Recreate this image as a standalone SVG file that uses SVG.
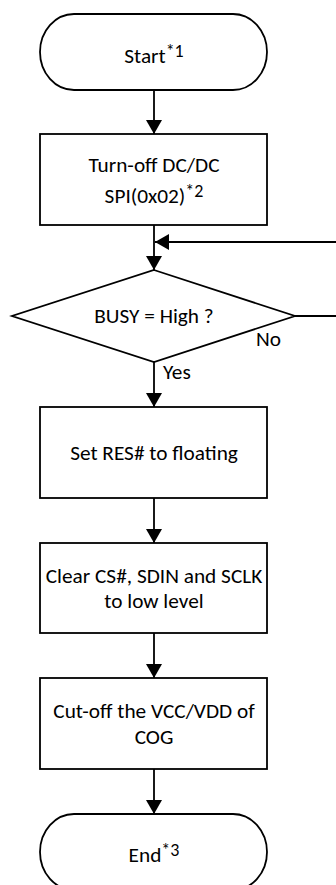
<svg xmlns="http://www.w3.org/2000/svg" width="336" height="885" viewBox="0 0 336 885">
<style>
.s{fill:#fff;stroke:#000;stroke-width:1.8}
.c{fill:none;stroke:#000;stroke-width:1.8}
text{font-family:Carlito,Calibri,Lato,"Open Sans",sans-serif;font-size:21.3px;fill:#000;text-anchor:middle}
.l{text-anchor:start}
.sup{font-size:18px}
</style>
<defs>
<marker id="ah" viewBox="0 0 14 16" refX="14" refY="8" markerWidth="14" markerHeight="16" markerUnits="userSpaceOnUse" orient="auto">
<path d="M0,0 L14,8 L0,16 Z" fill="#000"/>
</marker>
</defs>
<g id="connectors">
<line class="c" x1="154" y1="90" x2="154" y2="134" marker-end="url(#ah)"/>
<line class="c" x1="154" y1="225" x2="154" y2="270" marker-end="url(#ah)"/>
<path class="c" d="M295,316 H346 V242 H155" marker-end="url(#ah)"/>
<line class="c" x1="154" y1="362" x2="154" y2="407" marker-end="url(#ah)"/>
<line class="c" x1="154" y1="498" x2="154" y2="543" marker-end="url(#ah)"/>
<line class="c" x1="154" y1="633" x2="154" y2="678" marker-end="url(#ah)"/>
<line class="c" x1="154" y1="769" x2="154" y2="814" marker-end="url(#ah)"/>
<text class="l" x="256" y="346">No</text>
<text class="l" x="163" y="379">Yes</text>
</g>
<g id="start">
<rect class="s" x="40" y="14" width="227" height="76" rx="34" ry="38"/>
<text x="154" y="63">Start<tspan class="sup" dy="-6">*1</tspan></text>
</g>
<g id="turnoff">
<rect class="s" x="40" y="134" width="227" height="91"/>
<text x="154" y="172">Turn-off DC/DC</text>
<text x="154" y="203">SPI(0x02)<tspan class="sup" dy="-6">*2</tspan></text>
</g>
<g id="busy">
<polygon class="s" points="154,270 295,316 154,362 12,316"/>
<text x="154" y="323">BUSY = High ?</text>
</g>
<g id="setres">
<rect class="s" x="40" y="407" width="227" height="91"/>
<text x="154" y="460">Set RES# to floating</text>
</g>
<g id="clear">
<rect class="s" x="40" y="543" width="227" height="90"/>
<text x="154" y="583">Clear CS#, SDIN and SCLK</text>
<text x="154" y="608">to low level</text>
</g>
<g id="cutoff">
<rect class="s" x="40" y="678" width="227" height="91"/>
<text x="154" y="718">Cut-off the VCC/VDD of</text>
<text x="154" y="744">COG</text>
</g>
<g id="end">
<rect class="s" x="40" y="814" width="227" height="76" rx="34" ry="38"/>
<text x="154" y="862">End<tspan class="sup" dy="-6">*3</tspan></text>
</g>
</svg>
